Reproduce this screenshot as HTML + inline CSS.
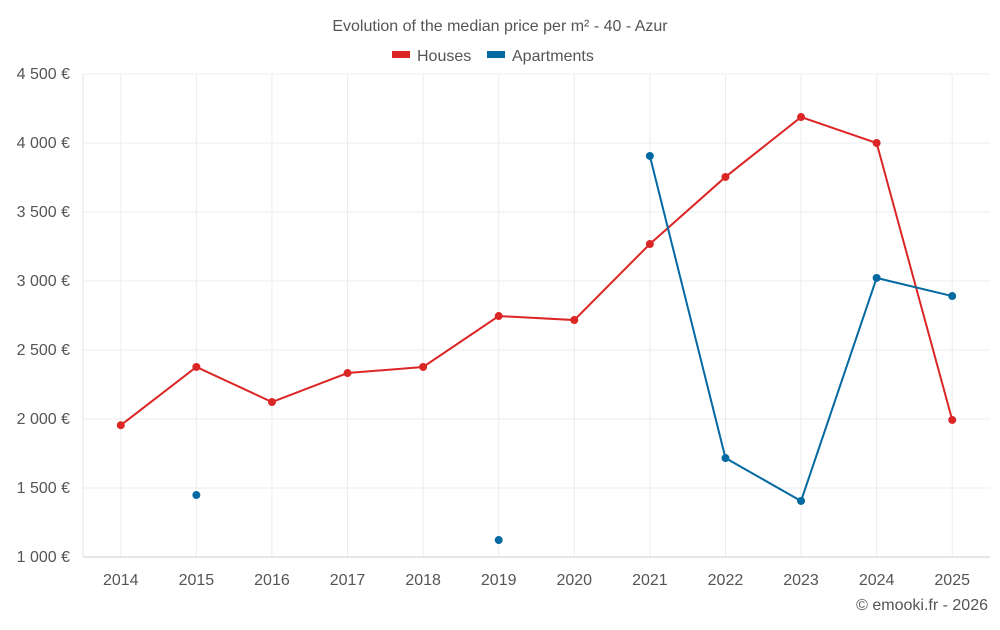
<!DOCTYPE html>
<html><head><meta charset="utf-8"><style>
body{margin:0;background:#fff;font-family:"Liberation Sans",sans-serif}
svg text{font-family:"Liberation Sans",sans-serif;fill:#555}
</style></head><body>
<svg id="c" width="1000" height="625">
<text x="500" y="31" text-anchor="middle" font-size="16">Evolution of the median price per m² - 40 - Azur</text>
<g>
<g><rect x="392" y="51" width="18" height="7" fill="#dc2626"/><text x="417" y="61" font-size="16">Houses</text></g>
<g><rect x="487" y="51" width="18" height="7" fill="#0369a1"/><text x="512" y="61" font-size="16">Apartments</text></g>
</g>
<g id="grid"></g><g id="axes"></g><g id="series"></g>
<text x="988" y="610" text-anchor="end" font-size="16">© emooki.fr - 2026</text>
</svg>
<script>
const years=["2014","2015","2016","2017","2018","2019","2020","2021","2022","2023","2024","2025"];
const houses=[1955,2377,2123,2333,2377,2746,2717,3268,3754,4188,4000,1993];
const apartments=[null,1449,null,null,null,1123,null,3906,1717,1406,3022,2891];
const yTicks=[1000,1500,2000,2500,3000,3500,4000,4500];
const L=83,R=990,T=74,B=557,yMin=1000,yMax=4500;
const bw=(R-L)/years.length;
const x=i=>L+bw*(i+0.5);
const y=v=>B-(v-yMin)/(yMax-yMin)*(B-T);
const ns="http://www.w3.org/2000/svg";
function mk(tag,parent,attrs){const e=document.createElementNS(ns,tag);for(const k in attrs)e.setAttribute(k,attrs[k]);document.getElementById(parent).appendChild(e);return e;}
const fmt=v=>String(v).replace(/\B(?=(\d{3})+(?!\d))/g," ")+" €";
const la=mk('line','grid',{x1:L,x2:L,y1:T,y2:B,stroke:'#e6e6e6'});


years.forEach((yr,i)=>{
 const l=mk('line','grid',{x1:x(i),x2:x(i),y1:T,y2:B,stroke:'#ececec'});
 
 
 const t=mk('text','axes',{x:x(i),y:585,'text-anchor':'middle','font-size':16});
 t.textContent=yr;
 
 
});
yTicks.forEach(v=>{
 const g=mk('line','grid',{x1:L,x2:R,y1:y(v),y2:y(v),stroke:v===yMin?'#cfcfcf':'#ececec'});
 
 
 const t=mk('text','axes',{x:70,y:y(v)+5,'text-anchor':'end','font-size':16});
 t.textContent=fmt(v);
 
 
});
function draw(data,color,name){
 let segs=[],cur=[];
 data.forEach((v,i)=>{if(v==null){if(cur.length)segs.push(cur);cur=[];}else cur.push([x(i),y(v)]);});
 if(cur.length)segs.push(cur);
 segs.forEach(s=>{if(s.length>1){const p=mk('polyline','series',{points:s.map(p=>p.join(',')).join(' '),fill:'none',stroke:color,'stroke-width':2});
  
  }});
 data.forEach((v,i)=>{if(v==null)return;const c=mk('circle','series',{cx:x(i),cy:y(v),r:4,fill:color});
  
  });
}
draw(houses,'#dc2626','houses');
draw(apartments,'#0369a1','apartments');
</script>
</body></html>
